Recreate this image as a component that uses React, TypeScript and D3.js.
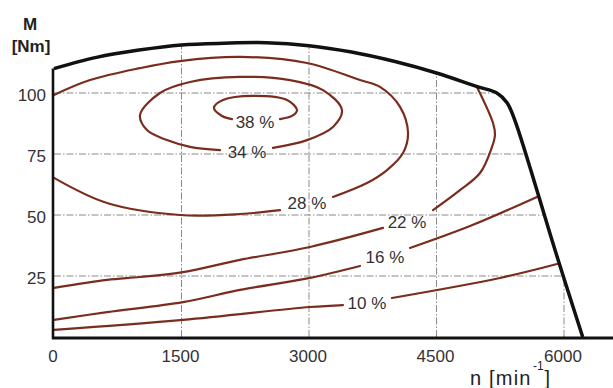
import React from "react";
import * as d3 from "d3";

// Speed (min^-1) and torque (Nm) axis ticks
const speedTicks = [0, 1500, 3000, 4500, 6000];
const torqueTicks = [25, 50, 75, 100];

// Full-load (maximum torque) characteristic
const maxTorqueN = [0, 500, 1000, 1500, 2000, 2500, 3000, 3500, 4000, 4500, 4980, 5210, 5330, 5420, 5900, 6220];
const maxTorqueM = [110, 114.6, 117.6, 119.7, 120.4, 120.6, 119.4, 116.8, 113, 108.2, 102.6, 100, 96, 89, 35, 0];

// Efficiency contours, [speed, torque] pairs; each contour is split at its label
const eff38: [number, number][] = [
  [2659, 89.3], [2800, 90.6], [2859, 93.0], [2741, 97.1], [2341, 98.8],
  [1988, 97.1], [1882, 93.9], [1976, 90.6], [2094, 89.3],
];
const eff34: [number, number][] = [
  [2576, 77.5], [2976, 80.7], [3282, 86.1], [3388, 93.0], [3165, 101.2],
  [2776, 105.3], [2188, 106.6], [1600, 104.5], [1247, 100], [1012, 91.0],
  [1094, 84.8], [1329, 80.7], [1600, 77.9], [1953, 76.6],
];
const eff28Upper: [number, number][] = [
  [0, 99.2], [424, 105.3], [1012, 110.2], [1482, 113.1], [2188, 114.8],
  [2976, 112.3], [3600, 105.3], [3835, 102.5], [4071, 94.3], [4165, 83.6],
  [4106, 75.4], [3918, 68.4], [3682, 63.1], [3282, 57.4],
];
const eff28Lower: [number, number][] = [
  [2659, 52], [2188, 50.4], [1482, 50], [624, 54.9], [0, 65.2],
];
const eff22Upper: [number, number][] = [
  [4976, 102.5], [5165, 87.7], [5188, 82.8], [5153, 77.9], [5012, 67.2],
  [4776, 60.2], [4459, 52],
];
const eff22Lower: [number, number][] = [
  [3871, 44.7], [3012, 36.9], [2188, 31.6], [1518, 26.6], [1012, 24.6],
  [624, 23.4], [0, 20.1],
];
const eff16Left: [number, number][] = [
  [0, 7], [624, 10.2], [1518, 14.3], [2188, 19.3], [3012, 24.2], [3600, 29.1],
];
const eff16Right: [number, number][] = [
  [4188, 36.5], [4894, 45.5], [5682, 57.4],
];
const eff10Left: [number, number][] = [
  [0, 2.9], [1518, 7], [3012, 12.3], [3400, 13.1],
];
const eff10Right: [number, number][] = [
  [3976, 16], [5247, 24.2], [5918, 29.9],
];

const contourSegments = [
  eff38, eff34, eff28Upper, eff28Lower, eff22Upper, eff22Lower,
  eff16Left, eff16Right, eff10Left, eff10Right,
];

// Contour labels and their anchor points [speed, torque]
const contourLabels = ["38 %", "34 %", "28 %", "22 %", "16 %", "10 %"];
const contourLabelAt: [number, number][] = [
  [2365, 87.9], [2271, 76], [2976, 54.9], [4153, 47.3], [3894, 32.8], [3682, 13.9],
];

export default function App() {
  const W = 613;
  const H = 388;
  const x = d3.scaleLinear().domain([0, 6000]).range([54, 564]);
  const y = d3.scaleLinear().domain([0, 100]).range([337, 93]);

  const maxPts: [number, number][] = maxTorqueN.map((n, i) => [n, maxTorqueM[i]]);
  const curve = d3.curveCatmullRom.alpha(0.5);

  const line = d3
    .line<[number, number]>()
    .x((d) => x(d[0]))
    .y((d) => y(d[1]))
    .curve(curve);

  const area = d3
    .area<[number, number]>()
    .x((d) => x(d[0]))
    .y0(y(0))
    .y1((d) => y(d[1]))
    .curve(curve);

  const font = "'Liberation Sans', Arial, sans-serif";
  const gridColor = "#8a8a8a";
  const contourColor = "#7a2d1e";

  return (
    <svg
      width={W}
      height={H}
      viewBox={`0 0 ${W} ${H}`}
      style={{ position: "absolute", left: 0, top: 0, background: "#fff" }}
    >
      <defs>
        <clipPath id="operating-area">
          <path d={area(maxPts) ?? ""} />
        </clipPath>
      </defs>
      <rect x={0} y={0} width={W} height={H} fill="#fff" />

      {/* grid, limited to the operating region */}
      <g clipPath="url(#operating-area)" stroke={gridColor} strokeWidth={1} strokeDasharray="7,2,1.5,2">
        {torqueTicks.map((m) => (
          <line key={`h${m}`} x1={x(0)} x2={W} y1={y(m)} y2={y(m)} />
        ))}
        {speedTicks.slice(1).map((n) => (
          <line key={`v${n}`} x1={x(n)} x2={x(n)} y1={y(0)} y2={0} />
        ))}
      </g>

      {/* efficiency contours */}
      <g fill="none" stroke={contourColor} strokeWidth={2.2} strokeLinecap="round" strokeLinejoin="round">
        {contourSegments.map((seg, i) => (
          <path key={i} d={line(seg) ?? ""} />
        ))}
      </g>

      {/* contour labels */}
      <g fontFamily={font} fontSize={17} fill="#333" textAnchor="middle">
        {contourLabels.map((t, i) => (
          <text key={t} x={x(contourLabelAt[i][0])} y={y(contourLabelAt[i][1])} dy="0.35em">
            {t}
          </text>
        ))}
      </g>

      {/* full-load curve */}
      <path d={line(maxPts) ?? ""} fill="none" stroke="#111" strokeWidth={3.5} strokeLinejoin="round" />

      {/* axes */}
      <line x1={x(0) - 1} x2={x(0) - 1} y1={y(110)} y2={y(0) + 2} stroke="#111" strokeWidth={2.6} />
      <line x1={x(0) - 2} x2={W} y1={y(0) + 1} y2={y(0) + 1} stroke="#111" strokeWidth={3} />

      {/* tick labels */}
      <g fontFamily={font} fontSize={17} fill="#333">
        {torqueTicks.map((m) => (
          <text key={m} x={46} y={y(m) + 2} textAnchor="end" dy="0.35em">
            {m}
          </text>
        ))}
        {speedTicks.map((n) => (
          <text key={n} x={x(n) - 1} y={362} textAnchor="middle">
            {n}
          </text>
        ))}
      </g>

      {/* axis titles */}
      <g fontFamily={font} fill="#222" fontWeight="bold">
        <text x={30} y={30} fontSize={17} textAnchor="middle">M</text>
        <text x={31} y={52} fontSize={17} textAnchor="middle">[Nm]</text>
      </g>
      <g fontFamily={font} fill="#222">
        <text x={470} y={385} fontSize={20} letterSpacing={1.2}>n [min</text>
        <text x={533} y={370} fontSize={12}>-1</text>
        <text x={544.5} y={385} fontSize={20}>]</text>
      </g>
    </svg>
  );
}
